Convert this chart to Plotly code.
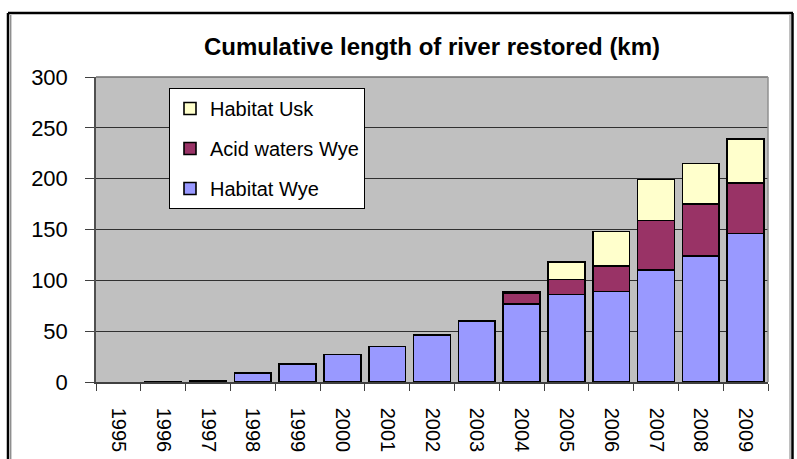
import plotly.graph_objects as go

years = ["1995", "1996", "1997", "1998", "1999", "2000", "2001", "2002",
         "2003", "2004", "2005", "2006", "2007", "2008", "2009"]
habitat_wye = [None, 0.5, 0.8, 9, 18, 27, 35, 46, 60, 77, 86, 89, 110, 124, 146]
acid_waters_wye = [None, None, None, None, None, None, None, None, None, 10.5, 15, 25, 49, 51, 50]
habitat_usk = [None, None, None, None, None, None, None, None, None, 1.5, 17, 34, 40, 40, 43]

W, H = 797, 459
L, R, T, B = 96, 29, 77, 77
pw, ph = W - L - R, H - T - B

def px(x):
    return (x - L) / pw

def py(y):
    return (H - B - y) / ph

fig = go.Figure()
series = [("Habitat Wye", habitat_wye, "#9999FF", 3),
          ("Acid waters Wye", acid_waters_wye, "#993366", 2),
          ("Habitat Usk", habitat_usk, "#FFFFCC", 1)]
for name, vals, col, rank in series:
    fig.add_trace(go.Bar(
        x=years, y=vals, name=name, legendgroup=name, legendrank=rank,
        marker=dict(color=col, line=dict(color="black", width=1.6)),
    ))

fig.update_layout(
    width=W, height=H,
    margin=dict(l=L, r=R, t=T, b=B, autoexpand=False),
    barmode="stack", bargap=0.18,
    paper_bgcolor="white", plot_bgcolor="#C0C0C0",
    font=dict(family="Liberation Sans, Arial, sans-serif", color="black", size=20),
    title=dict(text="<b>Cumulative length of river restored (km)</b>",
               x=0.5, xref="paper", xanchor="center", y=1 - 47 / H, yanchor="middle",
               font=dict(size=24, color="black")),
    legend=dict(x=px(169), y=py(88), xanchor="left", yanchor="top",
                bgcolor="white", bordercolor="black", borderwidth=1,
                font=dict(size=20), traceorder="grouped", tracegroupgap=11,
                itemwidth=30),
    showlegend=True,
)
fig.update_xaxes(type="category", showgrid=False, ticks="outside", tickson="boundaries",
                 ticklen=7, tickcolor="#404040", tickangle=90, showline=True,
                 linecolor="#404040", linewidth=1.5, ticklabelstandoff=20,
                 tickfont=dict(size=20), automargin=False)
fig.update_yaxes(range=[0, 300], dtick=50, showgrid=True, gridcolor="#303030", gridwidth=1,
                 ticks="outside", ticklen=9, tickcolor="#404040", showline=True,
                 linecolor="#505050", linewidth=1.5, zeroline=False, ticklabelstandoff=13,
                 tickfont=dict(size=22), automargin=False)

shapes = [
    # plot area border (top/right)
    dict(type="line", xref="paper", yref="paper", x0=0, x1=1, y0=1, y1=1,
         line=dict(color="#707070", width=1.5)),
    dict(type="line", xref="paper", yref="paper", x0=1, x1=1, y0=0, y1=1,
         line=dict(color="#909090", width=1.5)),
    # outer frame
    dict(type="line", xref="paper", yref="paper", x0=px(8), x1=px(793), y0=py(13), y1=py(13),
         line=dict(color="black", width=2.5)),
    dict(type="line", xref="paper", yref="paper", x0=px(8), x1=px(8), y0=py(13), y1=py(480),
         line=dict(color="black", width=2.5)),
    dict(type="line", xref="paper", yref="paper", x0=px(10.8), x1=px(10.8), y0=py(15), y1=py(480),
         line=dict(color="#606060", width=1)),
    dict(type="line", xref="paper", yref="paper", x0=px(792.5), x1=px(792.5), y0=py(13), y1=py(480),
         line=dict(color="black", width=2.5)),
    dict(type="line", xref="paper", yref="paper", x0=px(790), x1=px(790), y0=py(15), y1=py(480),
         line=dict(color="#808080", width=1)),
]
fig.update_layout(shapes=shapes)

fig.write_html("out.html", config={"displayModeBar": False},
               post_script="document.body.style.margin='0';document.body.style.overflow='hidden';")
